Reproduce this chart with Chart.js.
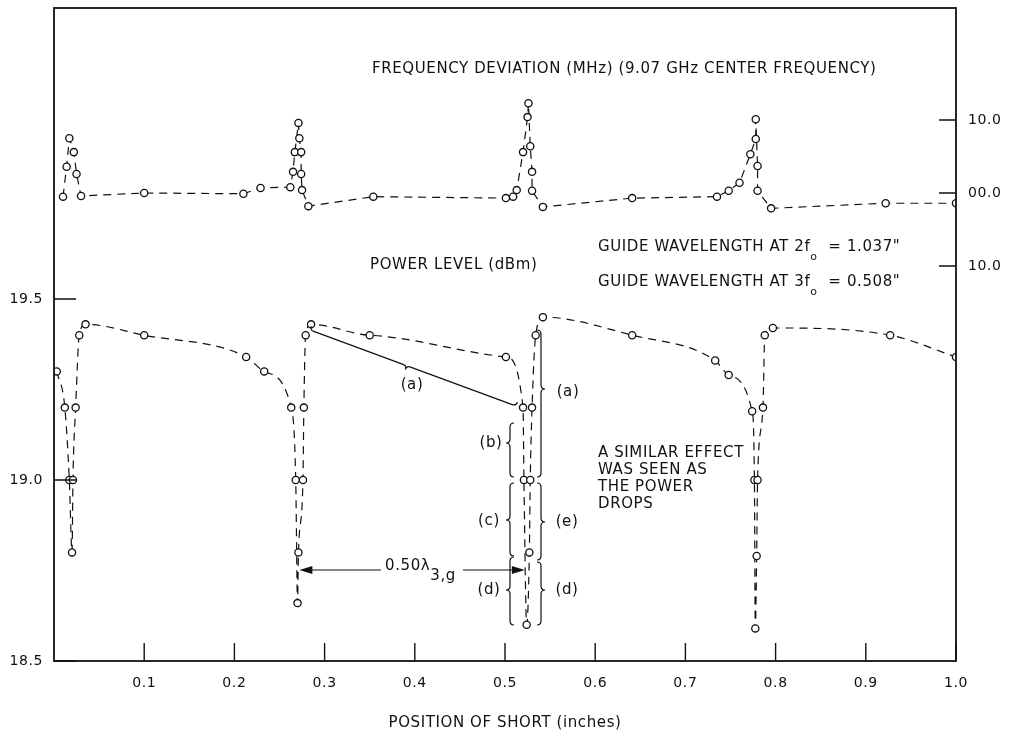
<!DOCTYPE html>
<html>
<head>
<meta charset="utf-8">
<script src="https://cdn.jsdelivr.net/npm/chart.js@4.4.0/dist/chart.umd.min.js"></script>
<style>
  html, body { margin: 0; padding: 0; background: #fff; }
</style>
</head>
<body>
<canvas id="chart" width="1009" height="732"></canvas>
<script>
const FONT = "'DejaVu Sans', sans-serif";
const INK = '#111';

// frequency deviation (MHz), right axis
const freqPos = [0.010, 0.014, 0.017, 0.022, 0.025, 0.030, 0.100, 0.210, 0.229,
  0.262, 0.265, 0.267, 0.271, 0.272, 0.274, 0.274, 0.275, 0.282, 0.354,
  0.501, 0.509, 0.513, 0.520, 0.525, 0.526, 0.528, 0.530, 0.530, 0.542, 0.641,
  0.735, 0.748, 0.760, 0.772, 0.778, 0.778, 0.780, 0.780, 0.795, 0.922, 1.000];
const freqDev = [-0.5, 3.6, 7.5, 5.6, 2.6, -0.4, 0.0, -0.1, 0.7,
  0.8, 2.9, 5.6, 9.6, 7.5, 5.6, 2.6, 0.4, -1.8, -0.5,
  -0.7, -0.5, 0.4, 5.6, 10.4, 12.3, 6.4, 2.9, 0.3, -1.9, -0.7,
  -0.5, 0.3, 1.4, 5.3, 7.4, 10.1, 3.7, 0.3, -2.1, -1.4, -1.4];

// power level (dBm), left axis
const powerPos = [0.003, 0.012, 0.017, 0.020, 0.021, 0.024, 0.028, 0.035, 0.100,
  0.213, 0.233, 0.263, 0.268, 0.270, 0.271, 0.276, 0.277, 0.279, 0.285, 0.350,
  0.501, 0.520, 0.521, 0.524, 0.527, 0.528, 0.530, 0.534, 0.542, 0.641,
  0.733, 0.748, 0.774, 0.7765, 0.7775, 0.779, 0.780, 0.786, 0.788, 0.797, 0.927, 1.000];
const powerLevel = [19.30, 19.20, 19.00, 18.80, 19.00, 19.20, 19.40, 19.43, 19.40,
  19.34, 19.30, 19.20, 19.00, 18.66, 18.80, 19.00, 19.20, 19.40, 19.43, 19.40,
  19.34, 19.20, 19.00, 18.60, 18.80, 19.00, 19.20, 19.40, 19.45, 19.40,
  19.33, 19.29, 19.19, 19.00, 18.59, 18.79, 19.00, 19.20, 19.40, 19.42, 19.40, 19.34];

const xTicks = [0.1, 0.2, 0.3, 0.4, 0.5, 0.6, 0.7, 0.8, 0.9, 1.0];
const powerTicks = [18.5, 19.0, 19.5];
const freqTicks = [10, 0, -10];
const freqTickLabels = ['10.0', '00.0', '10.0'];

function toPoints(xs, ys) {
  return xs.map((x, i) => ({ x: x, y: ys[i] }));
}

function brace(ctx, x, y1, y2, ym, dir, a) {
  // vertical curly brace, tip pointing left (-1) or right (+1)
  const s = x + a * dir, t = x + 2 * a * dir;
  ctx.beginPath();
  ctx.moveTo(x, y1);
  ctx.quadraticCurveTo(s, y1, s, y1 + a);
  ctx.lineTo(s, ym - a);
  ctx.quadraticCurveTo(s, ym, t, ym);
  ctx.quadraticCurveTo(s, ym, s, ym + a);
  ctx.lineTo(s, y2 - a);
  ctx.quadraticCurveTo(s, y2, x, y2);
  ctx.stroke();
}

function slantBrace(ctx, x1, y1, x2, y2, frac, a) {
  const L = Math.hypot(x2 - x1, y2 - y1);
  const xm = L * frac;
  ctx.save();
  ctx.translate(x1, y1);
  ctx.rotate(Math.atan2(y2 - y1, x2 - x1));
  ctx.beginPath();
  ctx.moveTo(0, -a);
  ctx.quadraticCurveTo(0, 0, a, 0);
  ctx.lineTo(xm - a, 0);
  ctx.quadraticCurveTo(xm, 0, xm, a);
  ctx.quadraticCurveTo(xm, 0, xm + a, 0);
  ctx.lineTo(L - a, 0);
  ctx.quadraticCurveTo(L, 0, L, -a);
  ctx.stroke();
  ctx.restore();
}

function arrowHead(ctx, x, y, dir) {
  ctx.beginPath();
  ctx.moveTo(x, y);
  ctx.lineTo(x - 13 * dir, y - 4);
  ctx.lineTo(x - 13 * dir, y + 4);
  ctx.closePath();
  ctx.fill();
}

function runText(ctx, x, y, parts) {
  let cx = x;
  parts.forEach(p => {
    ctx.font = (p.size || 15) + 'px ' + FONT;
    ctx.fillText(p.t, cx, y + (p.dy || 0));
    cx += ctx.measureText(p.t).width;
  });
}

const spacing = {
  id: 'spacing',
  beforeDraw(chart) { chart.ctx.letterSpacing = '0.6px'; }
};

const decorations = {
  id: 'decorations',
  afterDraw(chart) {
    const ctx = chart.ctx;
    const a = chart.chartArea;
    const sx = chart.scales.x, sy = chart.scales.y, sr = chart.scales.yR;
    ctx.save();
    ctx.strokeStyle = INK;
    ctx.fillStyle = INK;

    // frame
    ctx.lineWidth = 1.8;
    ctx.strokeRect(a.left, a.top, a.right - a.left, a.bottom - a.top);

    // inward tick marks
    ctx.lineWidth = 1.4;
    ctx.beginPath();
    xTicks.forEach(v => {
      const p = sx.getPixelForValue(v);
      ctx.moveTo(p, a.bottom); ctx.lineTo(p, a.bottom - 18);
    });
    powerTicks.forEach(v => {
      const p = sy.getPixelForValue(v);
      ctx.moveTo(a.left, p); ctx.lineTo(a.left + 22, p);
    });
    freqTicks.forEach(v => {
      const p = sr.getPixelForValue(v);
      ctx.moveTo(a.right, p); ctx.lineTo(a.right - 17, p);
    });
    ctx.stroke();

    // annotation texts
    ctx.textBaseline = 'middle';
    ctx.textAlign = 'left';
    runText(ctx, 372, 69, [{ t: 'FREQUENCY DEVIATION (MHz) (9.07 GHz CENTER FREQUENCY)' }]);
    runText(ctx, 370, 265, [{ t: 'POWER LEVEL (dBm)' }]);
    runText(ctx, 598, 247, [{ t: 'GUIDE WAVELENGTH AT 2f' }, { t: 'o', size: 11, dy: 10 }, { t: '  = 1.037"' }]);
    runText(ctx, 598, 282, [{ t: 'GUIDE WAVELENGTH AT 3f' }, { t: 'o', size: 11, dy: 10 }, { t: '  = 0.508"' }]);
    ['A SIMILAR EFFECT', 'WAS SEEN AS', 'THE POWER', 'DROPS'].forEach((t, i) => {
      runText(ctx, 598, 453 + i * 17, [{ t: t }]);
    });
    runText(ctx, 385, 566, [{ t: '0.50λ' }, { t: '3,g', dy: 10 }]);

    ctx.textAlign = 'center';
    ctx.font = '15px ' + FONT;
    [['(a)', 412, 385], ['(a)', 568, 392], ['(b)', 491, 443], ['(c)', 489, 521],
     ['(e)', 567, 522], ['(d)', 489, 590], ['(d)', 567, 590]].forEach(l => {
      ctx.fillText(l[0], l[1], l[2]);
    });

    // braces
    ctx.lineWidth = 1.2;
    slantBrace(ctx, 310, 330, 516, 406, 0.47, 4);
    brace(ctx, 514, 423, 477, 443, -1, 4);
    brace(ctx, 514, 483, 556, 520, -1, 4);
    brace(ctx, 514, 557, 625, 590, -1, 4);
    brace(ctx, 537, 330, 477, 389, 1, 4);
    brace(ctx, 537, 483, 560, 522, 1, 4);
    brace(ctx, 537, 562, 625, 590, 1, 4);

    // 0.50 lambda arrow between dips
    const ay = 570;
    const ax1 = sx.getPixelForValue(0.272), ax2 = sx.getPixelForValue(0.522);
    ctx.beginPath();
    ctx.moveTo(ax1 + 10, ay); ctx.lineTo(381, ay);
    ctx.moveTo(463, ay); ctx.lineTo(ax2 - 10, ay);
    ctx.stroke();
    arrowHead(ctx, ax1, ay, -1);
    arrowHead(ctx, ax2, ay, 1);
    ctx.restore();
  }
};

const lineStyle = {
  borderColor: INK,
  borderWidth: 1.2,
  borderDash: [8, 6],
  pointRadius: 3.6,
  pointBorderWidth: 1.3,
  pointBackgroundColor: '#fff',
  pointBorderColor: INK,
  fill: false
};

new Chart(document.getElementById('chart').getContext('2d'), {
  type: 'line',
  data: {
    datasets: [
      Object.assign({ label: 'Power level', data: toPoints(powerPos, powerLevel), yAxisID: 'y',
        cubicInterpolationMode: 'monotone' }, lineStyle),
      Object.assign({ label: 'Frequency deviation', data: toPoints(freqPos, freqDev), yAxisID: 'yR',
        tension: 0 }, lineStyle)
    ]
  },
  options: {
    responsive: false,
    animation: false,
    layout: { padding: { top: 8, left: 0, right: 0, bottom: 0 } },
    plugins: { legend: { display: false }, tooltip: { enabled: false } },
    scales: {
      x: {
        type: 'linear', position: 'bottom', min: 0, max: 1,
        grid: { display: false, drawTicks: false }, border: { display: false },
        afterBuildTicks: s => { s.ticks = xTicks.map(v => ({ value: v })); },
        afterFit: s => { s.height = 71; s.paddingLeft = 0; s.paddingRight = 0; },
        ticks: { color: INK, font: { family: FONT, size: 14 }, padding: 14, maxRotation: 0, autoSkip: false,
          callback: v => Number(v).toFixed(1) },
        title: { display: true, text: 'POSITION OF SHORT (inches)', color: INK,
          font: { family: FONT, size: 15 }, padding: { top: 10, bottom: 0 } }
      },
      y: {
        type: 'linear', position: 'left', min: 18.5, max: 20.304,
        grid: { display: false, drawTicks: false }, border: { display: false },
        afterBuildTicks: s => { s.ticks = powerTicks.map(v => ({ value: v })); },
        afterFit: s => { s.width = 54; s.paddingTop = 0; s.paddingBottom = 0; },
        ticks: { color: INK, font: { family: FONT, size: 14 }, padding: 11,
          callback: v => Number(v).toFixed(1) }
      },
      yR: {
        type: 'linear', position: 'right', min: -64.1, max: 25.34,
        grid: { display: false, drawTicks: false }, border: { display: false },
        afterBuildTicks: s => { s.ticks = freqTicks.map(v => ({ value: v })); },
        afterFit: s => { s.width = 53; s.paddingTop = 0; s.paddingBottom = 0; },
        ticks: { color: INK, font: { family: FONT, size: 14 }, padding: 12,
          callback: v => freqTickLabels[freqTicks.indexOf(v)] }
      }
    }
  },
  plugins: [spacing, decorations]
});
</script>
</body>
</html>
